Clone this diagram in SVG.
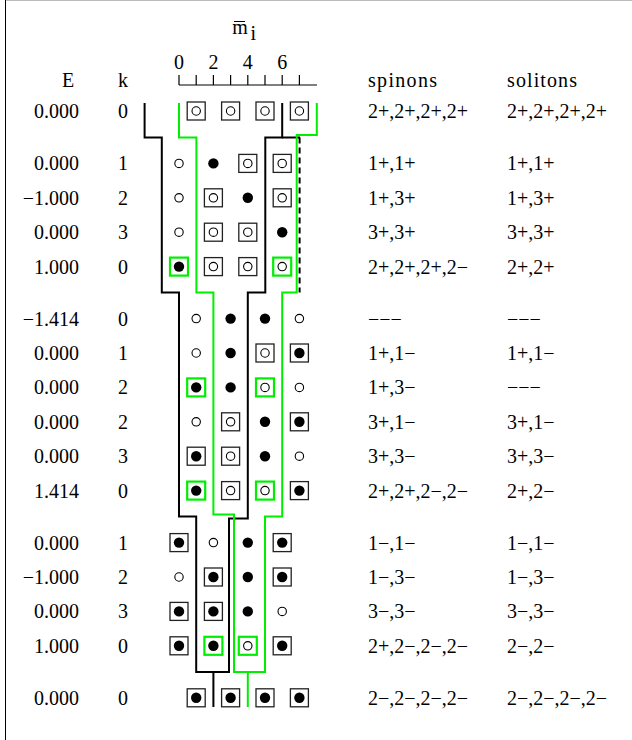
<svg xmlns="http://www.w3.org/2000/svg" xmlns:xlink="http://www.w3.org/1999/xlink" width="632" height="740" viewBox="0 0 632 740">
<style>
text{font-family:"Liberation Serif","Times New Roman",serif;font-size:20px;fill:#000}
.c{text-anchor:middle}
.e{text-anchor:end}
.bk{fill:none;stroke:#000;stroke-width:2}
.gr{fill:none;stroke:#00ee00;stroke-width:2}
</style>
<defs>
<g id="o"><circle r="4.2" fill="#fff" stroke="#000" stroke-width="1.1"/></g>
<g id="f"><circle r="5.2" fill="#000"/></g>
<g id="bo"><rect x="-9" y="-9" width="18" height="18" fill="#fff" stroke="#222" stroke-width="1.3"/><use href="#o"/></g>
<g id="bf"><rect x="-9" y="-9" width="18" height="18" fill="#fff" stroke="#222" stroke-width="1.3"/><use href="#f"/></g>
<g id="go"><rect x="-9" y="-9" width="18" height="18" fill="#fff" stroke="#00ee00" stroke-width="2.2"/><use href="#o"/></g>
<g id="gf"><rect x="-9" y="-9" width="18" height="18" fill="#fff" stroke="#00ee00" stroke-width="2.2"/><use href="#f"/></g>
</defs>
<rect width="632" height="740" fill="#fff"/>
<g id="frame">
<line x1="5" y1="0.5" x2="632" y2="0.5" stroke="#bbb" stroke-width="1"/>
<line x1="5.5" y1="0" x2="5.5" y2="740" stroke="#000" stroke-width="1"/>
</g>
<g id="axis">
<text class="c" x="240" y="33.5">m</text>
<line x1="234" y1="21.5" x2="245" y2="21.5" stroke="#000" stroke-width="1"/>
<text x="250.5" y="39.5">i</text>
<text class="c" x="179" y="68.5" font-size="19">0</text>
<text class="c" x="213.4" y="68.5" font-size="19">2</text>
<text class="c" x="247.8" y="68.5" font-size="19">4</text>
<text class="c" x="282.2" y="68.5" font-size="19">6</text>
<path d="M179,85H317M179,75V85M196.2,75V85M213.4,75V85M230.6,75V85M247.8,75V85M265,75V85M282.2,75V85M299.4,75V85" fill="none" stroke="#000" stroke-width="1.2"/>
</g>
<g id="headers">
<text class="c" x="68" y="86.5">E</text>
<text class="c" x="123" y="86.5">k</text>
<text x="368" y="86.5" textLength="69" lengthAdjust="spacing">spinons</text>
<text x="507" y="86.5" textLength="70" lengthAdjust="spacing">solitons</text>
</g>
<g id="connectors">
<path class="bk" d="M144.6,103V137.5H161.8V292.5H179V516.5H196.2V672H229V518.5H247.8V292.5H265.3V137.5H282.2V103"/>
<path class="bk" d="M282.2,137.5H300M213.4,672V707"/>
<path class="bk" d="M299.6,137.5V292.5" stroke-dasharray="6 4"/>
<path class="gr" d="M179,103V137.5H196.4V292.5H213.4V514.5H234V672H265V516.5H282.2V292.5H296.7V135H316.8V103"/>
<path class="gr" d="M247.8,672V707"/>
</g>
<g id="row0">
<use id="r0c1" href="#bo" x="196.2" y="111"/><use id="r0c3" href="#bo" x="230.6" y="111"/><use id="r0c5" href="#bo" x="265" y="111"/><use id="r0c7" href="#bo" x="299.4" y="111"/>
<text class="e" x="79" y="118">0.000</text><text class="c" x="123" y="118">0</text>
<text x="368" y="118">2+,2+,2+,2+</text><text x="507" y="118">2+,2+,2+,2+</text>
</g>
<g id="rowA1">
<use href="#o" x="179" y="163.4"/><use href="#f" x="213.4" y="163.4"/><use href="#bo" x="247.8" y="163.4"/><use href="#bo" x="282.2" y="163.4"/>
<text class="e" x="79" y="170.4">0.000</text><text class="c" x="123" y="170.4">1</text>
<text x="368" y="170.4">1+,1+</text><text x="507" y="170.4">1+,1+</text>
</g>
<g id="rowA2">
<use href="#o" x="179" y="197.8"/><use href="#bo" x="213.4" y="197.8"/><use href="#f" x="247.8" y="197.8"/><use href="#bo" x="282.2" y="197.8"/>
<text class="e" x="79" y="204.8">−1.000</text><text class="c" x="123" y="204.8">2</text>
<text x="368" y="204.8">1+,3+</text><text x="507" y="204.8">1+,3+</text>
</g>
<g id="rowA3">
<use href="#o" x="179" y="232.2"/><use href="#bo" x="213.4" y="232.2"/><use href="#bo" x="247.8" y="232.2"/><use href="#f" x="282.2" y="232.2"/>
<text class="e" x="79" y="239.2">0.000</text><text class="c" x="123" y="239.2">3</text>
<text x="368" y="239.2">3+,3+</text><text x="507" y="239.2">3+,3+</text>
</g>
<g id="rowA4">
<use href="#gf" x="179" y="266.6"/><use href="#bo" x="213.4" y="266.6"/><use href="#bo" x="247.8" y="266.6"/><use href="#go" x="282.2" y="266.6"/>
<text class="e" x="79" y="273.6">1.000</text><text class="c" x="123" y="273.6">0</text>
<text x="368" y="273.6">2+,2+,2+,2−</text><text x="507" y="273.6">2+,2+</text>
</g>
<g id="rowB1">
<use href="#o" x="196.2" y="318.6"/><use href="#f" x="230.6" y="318.6"/><use href="#f" x="265" y="318.6"/><use href="#o" x="299.4" y="318.6"/>
<text class="e" x="79" y="325.6">−1.414</text><text class="c" x="123" y="325.6">0</text>
<text x="368" y="325.6">−−−</text><text x="507" y="325.6">−−−</text>
</g>
<g id="rowB2">
<use href="#o" x="196.2" y="353"/><use href="#f" x="230.6" y="353"/><use href="#bo" x="265" y="353"/><use href="#bf" x="299.4" y="353"/>
<text class="e" x="79" y="360">0.000</text><text class="c" x="123" y="360">1</text>
<text x="368" y="360">1+,1−</text><text x="507" y="360">1+,1−</text>
</g>
<g id="rowB3">
<use href="#gf" x="196.2" y="387.4"/><use href="#f" x="230.6" y="387.4"/><use href="#go" x="265" y="387.4"/><use href="#o" x="299.4" y="387.4"/>
<text class="e" x="79" y="394.4">0.000</text><text class="c" x="123" y="394.4">2</text>
<text x="368" y="394.4">1+,3−</text><text x="507" y="394.4">−−−</text>
</g>
<g id="rowB4">
<use href="#o" x="196.2" y="421.8"/><use href="#bo" x="230.6" y="421.8"/><use href="#f" x="265" y="421.8"/><use href="#bf" x="299.4" y="421.8"/>
<text class="e" x="79" y="428.8">0.000</text><text class="c" x="123" y="428.8">2</text>
<text x="368" y="428.8">3+,1−</text><text x="507" y="428.8">3+,1−</text>
</g>
<g id="rowB5">
<use href="#bf" x="196.2" y="456.2"/><use href="#bo" x="230.6" y="456.2"/><use href="#f" x="265" y="456.2"/><use href="#o" x="299.4" y="456.2"/>
<text class="e" x="79" y="463.2">0.000</text><text class="c" x="123" y="463.2">3</text>
<text x="368" y="463.2">3+,3−</text><text x="507" y="463.2">3+,3−</text>
</g>
<g id="rowB6">
<use href="#gf" x="196.2" y="490.6"/><use href="#bo" x="230.6" y="490.6"/><use href="#go" x="265" y="490.6"/><use href="#bf" x="299.4" y="490.6"/>
<text class="e" x="79" y="497.6">1.414</text><text class="c" x="123" y="497.6">0</text>
<text x="368" y="497.6">2+,2+,2−,2−</text><text x="507" y="497.6">2+,2−</text>
</g>
<g id="rowC1">
<use href="#bf" x="179" y="542.6"/><use href="#o" x="213.4" y="542.6"/><use href="#f" x="247.8" y="542.6"/><use href="#bf" x="282.2" y="542.6"/>
<text class="e" x="79" y="549.6">0.000</text><text class="c" x="123" y="549.6">1</text>
<text x="368" y="549.6">1−,1−</text><text x="507" y="549.6">1−,1−</text>
</g>
<g id="rowC2">
<use href="#o" x="179" y="577"/><use href="#bf" x="213.4" y="577"/><use href="#f" x="247.8" y="577"/><use href="#bf" x="282.2" y="577"/>
<text class="e" x="79" y="584">−1.000</text><text class="c" x="123" y="584">2</text>
<text x="368" y="584">1−,3−</text><text x="507" y="584">1−,3−</text>
</g>
<g id="rowC3">
<use href="#bf" x="179" y="611.4"/><use href="#bf" x="213.4" y="611.4"/><use href="#f" x="247.8" y="611.4"/><use href="#o" x="282.2" y="611.4"/>
<text class="e" x="79" y="618.4">0.000</text><text class="c" x="123" y="618.4">3</text>
<text x="368" y="618.4">3−,3−</text><text x="507" y="618.4">3−,3−</text>
</g>
<g id="rowC4">
<use href="#bf" x="179" y="645.8"/><use href="#gf" x="213.4" y="645.8"/><use href="#go" x="247.8" y="645.8"/><use href="#bf" x="282.2" y="645.8"/>
<text class="e" x="79" y="652.8">1.000</text><text class="c" x="123" y="652.8">0</text>
<text x="368" y="652.8">2+,2−,2−,2−</text><text x="507" y="652.8">2−,2−</text>
</g>
<g id="rowLast">
<use href="#bf" x="196.2" y="697.8"/><use href="#bf" x="230.6" y="697.8"/><use href="#bf" x="265" y="697.8"/><use href="#bf" x="299.4" y="697.8"/>
<text class="e" x="79" y="704.8">0.000</text><text class="c" x="123" y="704.8">0</text>
<text x="368" y="704.8">2−,2−,2−,2−</text><text x="507" y="704.8">2−,2−,2−,2−</text>
</g>
</svg>
